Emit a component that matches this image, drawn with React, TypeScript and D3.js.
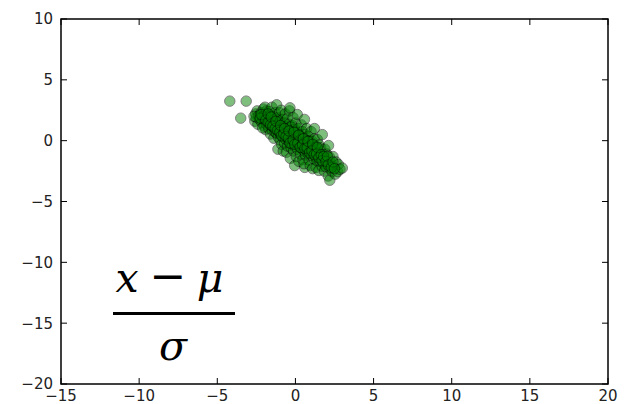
import React from "react";
import * as d3 from "d3";

const xTicks = [-15, -10, -5, 0, 5, 10, 15, 20];
const yTicks = [-20, -15, -10, -5, 0, 5, 10];
const tickLabel = (v: number) => (v < 0 ? "\u2212" + Math.abs(v) : String(v));

const samples: [number, number][] = [
  [-2.6, 1.6], [-2.55, 2.2], [-2.5, 1.9], [-2.45, 2.45], [-2.4, 1.35], [-2.35, 2.05], [-2.3, 1.75], [-2.65, 2.0],
  [-2.2, 2.3], [-2.15, 1.5], [-2.1, 1.95], [-2.05, 2.6], [-2.0, 1.2], [-2.0, 1.75], [-1.95, 2.15], [-1.9, 0.9],
  [-1.9, 1.6], [-1.85, 2.45], [-1.85, 1.35], [-1.8, 1.95], [-2.1, 1.05], [-1.95, 2.75],
  [-1.72, 1.9], [-1.7, 1.0], [-1.68, 2.4], [-1.65, 1.5], [-1.6, 0.55], [-1.6, 2.1], [-1.55, 1.25], [-1.52, 1.75],
  [-1.5, 2.75], [-1.48, 0.85], [-1.45, 1.55], [-1.42, 2.0], [-1.4, 1.1], [-1.38, 0.2], [-1.35, 1.4], [-1.3, 2.3],
  [-1.3, 0.7], [-1.28, 1.8],
  [-1.22, 1.45], [-1.2, 2.95], [-1.2, 0.6], [-1.18, 1.1], [-1.15, 1.9], [-1.12, -0.7], [-1.1, 0.3], [-1.08, 1.3],
  [-1.05, 0.85], [-1.02, 2.3], [-1.0, 1.6], [-0.98, 0.05], [-0.95, 1.05], [-0.95, 0.55], [-0.92, 1.35], [-0.9, 2.5],
  [-0.88, -0.3], [-0.85, 0.8], [-0.82, 1.75], [-0.8, 0.35], [-0.8, 1.15], [-0.78, -0.85],
  [-0.72, 0.95], [-0.7, -0.2], [-0.7, 1.5], [-0.68, 0.5], [-0.65, 2.2], [-0.62, 0.1], [-0.6, 1.15], [-0.58, -0.95],
  [-0.55, 0.7], [-0.52, 1.8], [-0.5, 0.3], [-0.5, -0.45], [-0.48, 1.0], [-0.45, 0.55], [-0.42, 1.35], [-0.4, -0.1],
  [-0.38, 2.45], [-0.35, 0.8], [-0.33, -1.45], [-0.3, 0.2], [-0.3, 1.15], [-0.28, -0.6], [-0.35, 2.7], [-0.25, 0.5],
  [-0.22, 0.65], [-0.2, -0.3], [-0.2, 1.25], [-0.18, 0.2], [-0.15, 1.9], [-0.12, -0.85], [-0.1, 0.45], [-0.08, -0.1],
  [-0.05, 0.95], [-0.05, -2.05], [-0.02, 0.3], [0.0, -0.5], [0.02, 1.45], [0.05, 0.05], [0.05, -1.3], [0.08, 0.7],
  [0.1, -0.25], [0.12, 2.15], [0.15, 0.35], [0.15, -0.75], [0.18, 1.0], [0.2, -0.05], [0.22, -1.7], [0.25, 0.5],
  [0.28, -0.45], [0.3, 0.35], [0.32, -1.1], [0.35, 0.05], [0.38, 1.3], [0.4, -0.6], [0.42, -0.15], [0.45, 0.75],
  [0.48, -1.55], [0.5, -0.35], [0.52, 0.2], [0.55, -0.85], [0.58, 1.75], [0.6, -2.2], [0.6, -0.1], [0.62, 0.5],
  [0.65, -1.2], [0.68, -0.5], [0.7, 0.0], [0.72, 1.0], [0.72, -0.8], [0.55, -1.9],
  [0.78, -0.3], [0.8, -1.05], [0.82, 0.35], [0.85, -0.6], [0.88, -1.6], [0.9, 0.0], [0.92, -0.85], [0.95, -2.05],
  [0.98, -0.35], [1.0, 0.75], [1.02, -1.2], [1.05, -0.6], [1.08, -0.05], [1.1, -2.3], [1.12, -0.95], [1.15, -0.4],
  [1.18, -1.5], [1.2, 0.15], [1.22, -0.8], [1.22, 1.0],
  [1.28, -1.3], [1.3, -0.5], [1.32, -2.2], [1.35, -0.95], [1.38, -1.65], [1.4, 0.1], [1.42, -0.7], [1.45, -1.25],
  [1.5, -2.45], [1.52, -0.35], [1.55, -1.0], [1.58, -1.7], [1.62, -0.6], [1.65, -1.35], [1.7, -2.1], [1.72, 0.5],
  [1.78, -1.15], [1.8, -1.9], [1.85, -2.5], [1.88, -0.7], [1.92, -1.45], [1.95, -2.15], [2.0, -1.1], [2.05, -1.75],
  [2.1, -2.9], [2.12, -0.4], [2.18, -1.35], [2.22, -2.3],
  [2.3, -1.9], [2.35, -2.55], [2.4, -1.3], [2.45, -2.2], [2.2, -3.25], [2.55, -2.75], [2.6, -1.75],
  [2.7, -2.55], [2.75, -1.95], [2.85, -2.35], [3.0, -2.25],
  [-2.25, 1.85], [-2.2, 2.15], [-1.9, 1.7], [-1.75, 1.5], [-1.75, 2.2], [-1.6, 1.3], [-1.55, 1.95], [-1.45, 1.2],
  [-1.3, 1.0], [-1.25, 1.6], [-1.15, 0.85], [-1.0, 0.7], [-0.95, 1.25], [-0.9, 0.4], [-0.75, 0.55], [-0.7, 1.0],
  [-0.6, 0.35], [-0.45, 0.2], [-0.42, 0.8], [-0.35, -0.2], [-0.15, 0.05], [-0.1, 0.7], [-0.05, -0.3], [0.15, -0.2],
  [0.2, 0.45], [0.3, -0.55], [0.45, -0.35], [0.5, 0.15], [0.6, -0.65], [0.75, -0.6], [0.8, -0.05], [0.9, -1.0],
  [1.05, -0.85], [1.1, -0.3], [1.2, -1.15], [1.35, -1.1], [1.4, -0.55], [1.5, -1.4], [1.65, -1.15], [1.7, -1.65],
  [1.8, -1.3], [1.95, -1.7], [2.05, -1.3], [2.1, -2.0], [2.3, -2.2], [2.4, -1.75], [2.5, -2.3],
  [-4.2, 3.25], [-3.15, 3.25], [-3.5, 1.85],
];

const W = 639;
const H = 404;
const M = { left: 61, right: 31, top: 19, bottom: 20 };

export default function App() {
  const x = d3.scaleLinear().domain([-15, 20]).range([M.left, W - M.right]);
  const y = d3.scaleLinear().domain([-20, 10]).range([H - M.bottom, M.top]);
  const tick = 6;
  const font = "'DejaVu Sans', sans-serif";
  const mathFont = "'DejaVu Serif', serif";
  return (
    <svg
      width={W}
      height={H}
      style={{ position: "absolute", left: 0, top: 0, background: "#fff" }}
    >
      <rect x={0} y={0} width={W} height={H} fill="#fff" />
      <g>
        {samples.map(([a, b], i) => (
          <circle
            key={i}
            cx={x(a)}
            cy={y(b)}
            r={5.2}
            fill="green"
            stroke="black"
            strokeWidth={1}
            opacity={0.5}
          />
        ))}
      </g>
      <rect
        x={x(-15)}
        y={y(10)}
        width={x(20) - x(-15)}
        height={y(-20) - y(10)}
        fill="none"
        stroke="#000"
        strokeWidth={1.5}
      />
      {xTicks.map((t) => (
        <g key={"x" + t}>
          <line x1={x(t)} x2={x(t)} y1={y(-20)} y2={y(-20) - tick} stroke="#000" />
          <line x1={x(t)} x2={x(t)} y1={y(10)} y2={y(10) + tick} stroke="#000" />
          <text
            x={x(t)}
            y={H - 3}
            textAnchor="middle"
            fontFamily={font}
            fontSize={15}
            fill="#222"
          >
            {tickLabel(t)}
          </text>
        </g>
      ))}
      {yTicks.map((t) => (
        <g key={"y" + t}>
          <line x1={x(-15)} x2={x(-15) + tick} y1={y(t)} y2={y(t)} stroke="#000" />
          <line x1={x(20)} x2={x(20) - tick} y1={y(t)} y2={y(t)} stroke="#000" />
          <text
            x={x(-15) - 8}
            y={y(t)}
            dy="0.36em"
            textAnchor="end"
            fontFamily={font}
            fontSize={15}
            fill="#222"
          >
            {tickLabel(t)}
          </text>
        </g>
      ))}
      <g fontFamily={mathFont} fontStyle="italic" fontSize={41} fill="#000">
        <text x={127} y={292} textAnchor="middle">x</text>
        <text x={168} y={291} textAnchor="middle" fontStyle="normal" fontFamily="'DejaVu Sans', sans-serif" fontSize={44}>{"\u2212"}</text>
        <text x={210} y={292} textAnchor="middle">μ</text>
        <text x={173} y={360} textAnchor="middle">σ</text>
      </g>
      <line x1={113} x2={235} y1={313.5} y2={313.5} stroke="#000" strokeWidth={3} />
    </svg>
  );
}
